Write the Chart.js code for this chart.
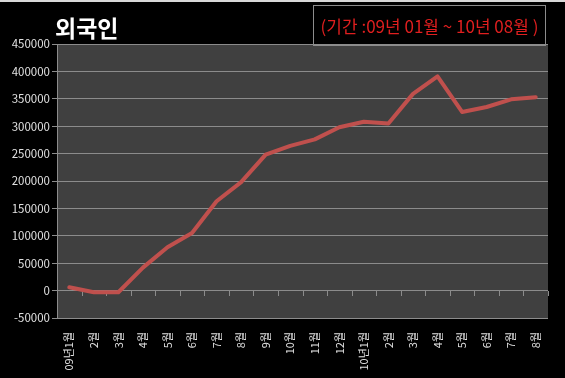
<!DOCTYPE html>
<html>
<head>
<meta charset="utf-8">
<script src="https://cdn.jsdelivr.net/npm/chart.js@4/dist/chart.umd.min.js"></script>
<style>
  html, body { margin: 0; padding: 0; background: #000; }
  #wrap { position: relative; width: 565px; height: 378px; background: #000; overflow: hidden; }
  #topline { position: absolute; left: 0; top: 0; width: 565px; height: 2px; background: #d8d8d8; }
  #title { position: absolute; left: 55px; top: 10px; color: #fff; font: bold 23px "Noto Sans CJK KR", sans-serif; }
  #period { position: absolute; left: 313px; top: 5px; width: 231px; height: 39px; border: 1.5px solid #8c8c8c;
            color: #e01f1f; font: 17px "Noto Sans CJK KR", sans-serif; line-height: 39px; text-align: center; }
  canvas { position: absolute; left: 0; top: 0; }
</style>
</head>
<body>
<div id="wrap">
  <div id="topline"></div>
  <canvas id="chart" width="565" height="378"></canvas>
  <div id="title">외국인</div>
  <div id="period">(기간 :09년 01월 ~ 10년 08월 )</div>
</div>
<script>
const months = ["09년1월", "2월", "3월", "4월", "5월", "6월", "7월", "8월", "9월", "10월", "11월", "12월",
                "10년1월", "2월", "3월", "4월", "5월", "6월", "7월", "8월"]
const foreignNet = [6000, -3000, -3000, 42000, 79000, 105000, 163000, 198000, 248000, 264000, 276000, 298000,
                    308000, 305000, 359000, 391000, 326000, 335000, 349000, 353000]
const yMin = -50000
const yMax = 450000
const yStep = 50000

// small tick marks on the zero line between categories (Excel style)
const zeroTicks = {
  id: "zeroTicks",
  beforeDatasetsDraw(chart) {
    const { ctx, scales: { x, y } } = chart
    const y0 = Math.round(y.getPixelForValue(0))
    ctx.save()
    ctx.strokeStyle = "#8c8c8c"
    ctx.lineWidth = 1
    ctx.beginPath()
    for (let i = 0; i <= months.length; i++) {
      const px = Math.round(x.getPixelForValue(i - 0.5)) + 0.5
      ctx.moveTo(px, y0)
      ctx.lineTo(px, y0 + 5)
    }
    ctx.stroke()
    ctx.restore()
  }
}

const plotBg = {
  id: "plotBg",
  beforeDraw(chart) {
    const { ctx, chartArea: a } = chart
    ctx.save()
    ctx.fillStyle = "#404040"
    ctx.fillRect(a.left, a.top, a.right - a.left, a.bottom - a.top)
    ctx.restore()
  }
}

new Chart(document.getElementById("chart").getContext("2d"), {
  type: "line",
  data: {
    labels: months,
    datasets: [{
      label: "외국인",
      data: foreignNet,
      borderColor: "#c0504d",
      borderWidth: 4,
      pointRadius: 0,
      tension: 0,
      borderJoinStyle: "round",
      borderCapStyle: "round"
    }]
  },
  options: {
    responsive: false,
    animation: false,
    layout: { padding: { top: 44, right: 17, left: 0, bottom: 0 } },
    plugins: { legend: { display: false }, tooltip: { enabled: false } },
    scales: {
      x: {
        offset: true,
        grid: { display: false, drawTicks: false },
        border: { display: false },
        ticks: {
          color: "#e0e0e0",
          font: { family: "'Noto Sans CJK KR', sans-serif", size: 11 },
          minRotation: 90,
          maxRotation: 90,
          autoSkip: false,
          padding: 14
        },
        afterFit(scale) { scale.height = 60 }
      },
      y: {
        min: yMin,
        max: yMax,
        grid: { color: "#8c8c8c", tickLength: 5, lineWidth: 1 },
        border: { color: "#8c8c8c" },
        ticks: {
          stepSize: yStep,
          color: "#e0e0e0",
          font: { family: "'Noto Sans CJK KR', sans-serif", size: 11.5 },
          padding: 2,
          callback: (v) => String(v)
        },
        afterFit(scale) { scale.width = 57 }
      }
    }
  },
  plugins: [plotBg, zeroTicks]
})
</script>
</body>
</html>
